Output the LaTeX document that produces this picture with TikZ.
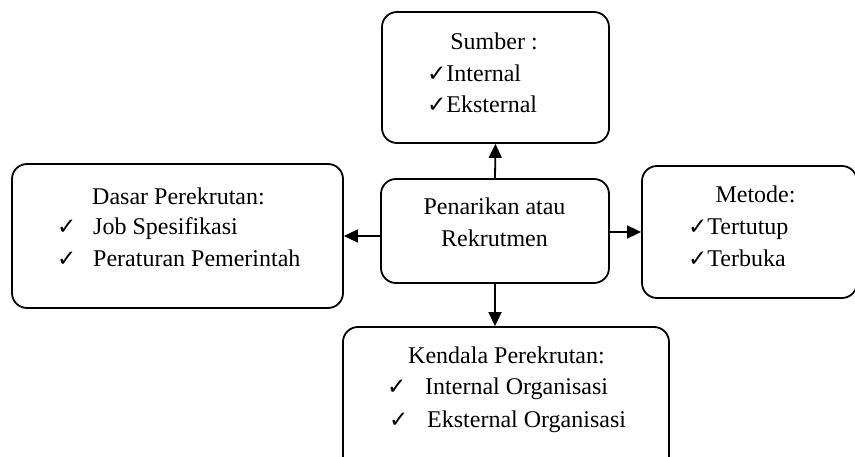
\documentclass[tikz,border=0pt]{standalone}
\usepackage{fontspec}
\setmainfont{Liberation Serif}
\newfontfamily\symfont{DejaVu Sans}
\usetikzlibrary{arrows.meta}
\newcommand{\chk}{{\symfont\fontsize{23}{23}\selectfont ✓}}
\tikzset{
  box/.style={draw, line width=1.8pt, rounded corners=15pt, inner sep=0pt},
  txt/.style={inner sep=0pt, font=\fontsize{24}{33}\selectfont},
  arr/.style={line width=1.8pt, -{Triangle[length=14pt,width=13pt]}}
}
\begin{document}
\begin{tikzpicture}[x=1pt,y=-1pt]
\clip (0,0) rectangle (855,457);
\fill[white] (0,0) rectangle (855,457);
% boxes
\node[box, minimum width=227pt, minimum height=131pt] (top) at (495.5,77.5) {};
\node[box, minimum width=228pt, minimum height=104pt] (ctr) at (495,231) {};
\node[box, minimum width=331pt, minimum height=144pt] (lft) at (177.5,236) {};
\node[box, minimum width=215pt, minimum height=132pt] (rgt) at (749.5,232) {};
\node[box, minimum width=326pt, minimum height=145pt] (bot) at (506,399.5) {};
% arrows
\draw[arr] (ctr.north) -- (top.south);
\draw[arr] (ctr.south) -- (ctr.south |- bot.north);
\draw[arr] (ctr.west |- lft.east) -- (lft.east);
\draw[arr] (ctr.east |- rgt.west) -- (rgt.west);
% top text
\node[txt, anchor=base] (t0) at (494,50) {Sumber :};
\node[txt, anchor=base west] (t1) at (427,82) {\chk Internal};
\node[txt, anchor=base west] (t2) at (427,113) {\chk Eksternal};
% center text
\node[txt, anchor=base] (c1) at (494.5,215) {Penarikan atau};
\node[txt, anchor=base] (c2) at (494.5,247) {Rekrutmen};
% left text
\node[txt, anchor=base west] (l0) at (92,205) {Dasar Perekrutan:};
\node[txt, anchor=base west] (l1k) at (57,235) {\chk};
\node[txt, anchor=base west] (l1) at (93,235) {Job Spesifikasi};
\node[txt, anchor=base west] (l2k) at (57,267) {\chk};
\node[txt, anchor=base west] (l2) at (93,267) {Peraturan Pemerintah};
% right text
\node[txt, anchor=base] (r0) at (755.5,203) {Metode:};
\node[txt, anchor=base west] (r1) at (688,235) {\chk Tertutup};
\node[txt, anchor=base west] (r2) at (688,267) {\chk Terbuka};
% bottom text
\node[txt, anchor=base] (b0) at (506.5,363) {Kendala Perekrutan:};
\node[txt, anchor=base west] (b1k) at (387,395) {\chk};
\node[txt, anchor=base west] (b1) at (425,395) {Internal Organisasi};
\node[txt, anchor=base west] (b2k) at (389,427) {\chk};
\node[txt, anchor=base west] (b2) at (427,427) {Eksternal Organisasi};
\end{tikzpicture}
\end{document}
